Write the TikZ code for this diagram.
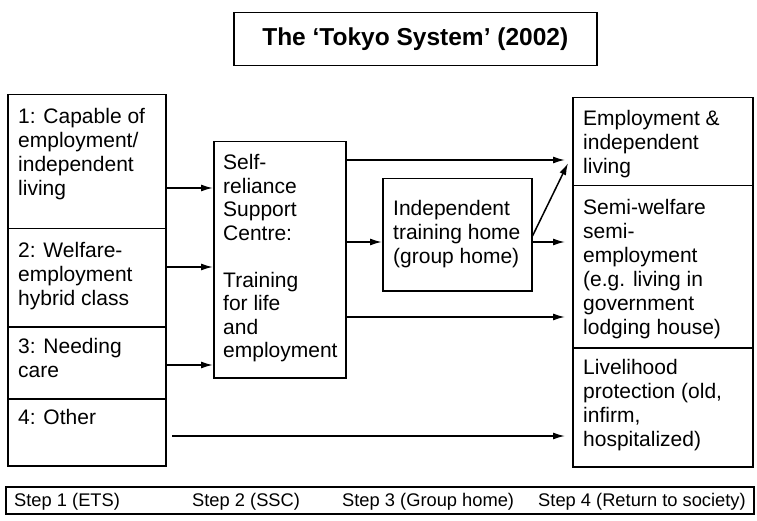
\documentclass[tikz,border=0pt]{standalone}
\usepackage{fontspec}
\setmainfont{Liberation Sans}
\usetikzlibrary{arrows.meta}
\begin{document}
\begin{tikzpicture}[x=1pt,y=-1pt,
  box/.style={draw, line width=1.5pt, anchor=north west, inner sep=0pt},
  txt/.style={anchor=north west, align=left, inner sep=0pt, font=\fontsize{21}{24}\selectfont},
  steplabel/.style={anchor=base west, inner sep=0pt, font=\fontsize{18.3}{22}\selectfont},
  arr/.style={line width=1.5pt, -{Latex[length=12pt,width=7pt]}},
]
\useasboundingbox (0,0) rectangle (757,521);
% title
\node[box, minimum width=363pt, minimum height=53pt, font=\bfseries\fontsize{24.5}{28}\selectfont] (title) at (233,12) {The ‘Tokyo System’ (2002)};
% left column
\node[box, minimum width=158pt, minimum height=134pt] (b1) at (7,94) {};
\node[box, minimum width=158pt, minimum height=98pt] (b2) at (7,228) {};
\node[box, minimum width=158pt, minimum height=72pt] (b3) at (7,326) {};
\node[box, minimum width=158pt, minimum height=67pt] (b4) at (7,398) {};
\node[txt] (t1) at (18,108.5) {1: Capable of\\employment/\\independent\\living};
\node[txt] (t2) at (18,242.5) {2: Welfare-\\employment\\hybrid class};
\node[txt] (t3) at (18,338) {3: Needing\\care};
\node[txt] (t4) at (18,409) {4: Other};
% SSC
\node[box, minimum width=132pt, minimum height=236pt] (ssc) at (213,141) {};
\node[txt, font=\fontsize{21}{23.5}\selectfont] (tssc) at (223,154.5) {Self-\\reliance\\Support\\Centre:\\[23.5pt]Training\\for life\\and\\employment};
% group home
\node[box, minimum width=149pt, minimum height=112pt] (gh) at (382,178) {};
\node[txt] (tgh) at (393,200.5) {Independent\\training home\\(group home)};
% right column
\node[box, minimum width=180pt, minimum height=88pt] (r1) at (572,97) {};
\node[box, minimum width=180pt, minimum height=162pt] (r2) at (572,185) {};
\node[box, minimum width=180pt, minimum height=119pt] (r3) at (572,347) {};
\node[txt] (tr1) at (583,110.5) {Employment \&\\independent\\living};
\node[txt] (tr2) at (583,199.5) {Semi-welfare\\semi-\\employment\\(e.g. living in\\government\\lodging house)};
\node[txt] (tr3) at (583,359.5) {Livelihood\\protection (old,\\infirm,\\hospitalized)};
% step bar
\node[box, minimum width=748pt, minimum height=27pt] (bar) at (5,486) {};
\node[steplabel] (s1) at (14,506) {Step 1 (ETS)};
\node[steplabel] (s2) at (192,506) {Step 2 (SSC)};
\node[steplabel] (s3) at (342,506) {Step 3 (Group home)};
\node[steplabel] (s4) at (538,506) {Step 4 (Return to society)};
% arrows
\draw[arr] (b1.east |- 0,188) -- (ssc.west |- 0,188);
\draw[arr] (b2.east |- 0,267) -- (ssc.west |- 0,267);
\draw[arr] (b3.east |- 0,365) -- (ssc.west |- 0,365);
\draw[arr, shorten >=7pt] (ssc.east |- 0,160) -- (r1.west |- 0,160);
\draw[arr] (ssc.east |- 0,242) -- (gh.west |- 0,242);
\draw[arr, shorten >=7pt] (gh.east |- 0,242) -- (r2.west |- 0,242);
\draw[arr, shorten >=9pt] (gh.east |- 0,236) -- (r1.west |- 0,155);
\draw[arr, shorten >=7pt] (ssc.east |- 0,317) -- (r2.west |- 0,317);
\coordinate (o4) at (172,436);
\draw[arr, shorten >=7pt] (o4) -- (r3.west |- o4);
\end{tikzpicture}
\end{document}
